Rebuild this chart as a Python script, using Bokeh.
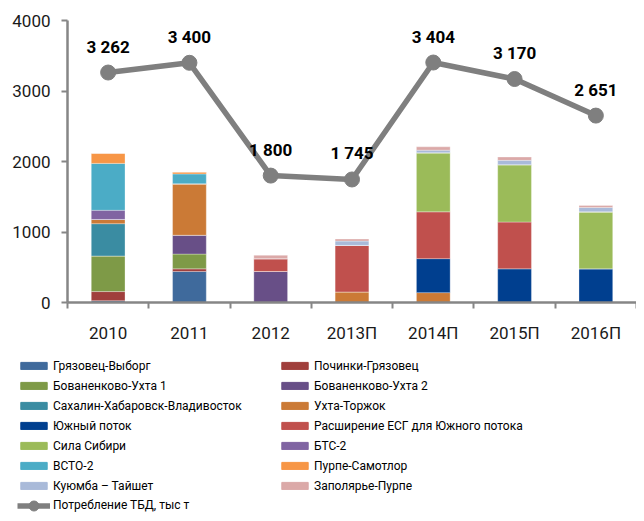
from bokeh.plotting import figure
from bokeh.layouts import column
from bokeh.models import Range1d, FixedTicker, ColumnDataSource, Legend, LegendItem
from bokeh.core.properties import value
from bokeh.embed import file_html
from bokeh.resources import INLINE

categories = ["2010", "2011", "2012", "2013П", "2014П", "2015П", "2016П"]

gryazovets_vyborg = [25, 440, 0, 0, 0, 0, 0]
pochinki_gryazovets = [130, 37, 0, 0, 0, 0, 0]
bovanenkovo_ukhta_1 = [505, 210, 0, 0, 0, 0, 0]
bovanenkovo_ukhta_2 = [0, 267, 440, 0, 0, 0, 0]
sakhalin_khabarovsk_vladivostok = [458, 0, 0, 0, 0, 0, 0]
ukhta_torzhok = [60, 730, 0, 150, 140, 0, 0]
south_stream = [0, 0, 0, 0, 482, 477, 477]
ugss_expansion = [0, 0, 182, 660, 664, 664, 0]
power_of_siberia = [0, 0, 0, 0, 838, 814, 809]
bts_2 = [130, 0, 0, 0, 0, 0, 0]
espo_2 = [665, 140, 0, 0, 0, 0, 0]
purpe_samotlor = [145, 28, 0, 0, 0, 0, 0]
kuyumba_taishet = [0, 0, 0, 61, 37, 61, 61]
zapolyarye_purpe = [0, 0, 47, 28, 47, 47, 28]

consumption = [3262, 3400, 1800, 1745, 3404, 3170, 2651]

series_names = [
    "Грязовец-Выборг", "Починки-Грязовец",
    "Бованенково-Ухта 1", "Бованенково-Ухта 2",
    "Сахалин-Хабаровск-Владивосток", "Ухта-Торжок",
    "Южный поток", "Расширение ЕСГ для Южного потока",
    "Сила Сибири", "БТС-2",
    "ВСТО-2", "Пурпе-Самотлор",
    "Куюмба – Тайшет", "Заполярье-Пурпе",
]
series_values = [
    gryazovets_vyborg, pochinki_gryazovets,
    bovanenkovo_ukhta_1, bovanenkovo_ukhta_2,
    sakhalin_khabarovsk_vladivostok, ukhta_torzhok,
    south_stream, ugss_expansion,
    power_of_siberia, bts_2,
    espo_2, purpe_samotlor,
    kuyumba_taishet, zapolyarye_purpe,
]
colors = [
    "#3F6A9C", "#A03F3C",
    "#7E9A47", "#684F87",
    "#3A8CA2", "#CB7A36",
    "#003F8F", "#C0504D",
    "#9BBB59", "#8064A2",
    "#4BACC6", "#F79646",
    "#A9BAD9", "#DBA9A8",
]
line_name = "Потребление ТБД, тыс т"
line_color = "#7F7F7F"

FONT = "Roboto"
x_pos = list(range(len(categories)))

data = {"x": x_pos, "consumption": consumption,
        "label": [f"{v:,}".replace(",", " ") for v in consumption]}
keys = []
for i, vals in enumerate(series_values):
    k = f"s{i}"
    keys.append(k)
    data[k] = vals
source = ColumnDataSource(data)

# ---------------- main chart ----------------
p = figure(width=636, height=345, output_backend="svg", toolbar_location=None,
           x_range=Range1d(-0.5, len(categories) - 0.5), y_range=Range1d(0, 4000),
           min_border_left=67, min_border_right=0, min_border_top=20,
           min_border_bottom=40)
p.frame_align = False
p.outline_line_color = None
p.xgrid.visible = False
p.ygrid.visible = False

bars = p.vbar_stack(keys, x="x", width=0.415, source=source, color=colors,
                    line_color="white", line_width=0.5, line_alpha=0.6)

p.line("x", "consumption", source=source, line_color=line_color, line_width=5.5)
p.scatter("x", "consumption", source=source, size=15, color=line_color)
p.text("x", "consumption", text="label", source=source, text_align="center",
       text_baseline="middle", y_offset=-26, text_font=value(FONT),
       text_font_size="17px", text_font_style="bold", text_color="black")

ax = p.xaxis[0]
ax.ticker = FixedTicker(ticks=x_pos, minor_ticks=[i - 0.5 for i in range(len(categories) + 1)])
ax.major_label_overrides = {i: c for i, c in enumerate(categories)}
ax.major_tick_line_color = None
ax.major_tick_out = 0
ax.major_tick_in = 0
ax.minor_tick_out = 6
ax.minor_tick_in = 0
ax.minor_tick_line_color = "#868686"
ax.minor_tick_line_width = 2
ax.axis_line_color = "#868686"
ax.axis_line_width = 2.5
ax.major_label_text_font = FONT
ax.major_label_text_font_size = "17px"
ax.major_label_text_color = "#1a1a1a"
ax.major_label_standoff = 14

ay = p.yaxis[0]
ay.ticker = FixedTicker(ticks=[0, 1000, 2000, 3000, 4000], minor_ticks=[])
ay.major_tick_out = 6
ay.major_tick_in = 0
ay.major_tick_line_color = "#868686"
ay.major_tick_line_width = 2
ay.minor_tick_line_color = None
ay.axis_line_color = "#868686"
ay.axis_line_width = 2.5
ay.major_label_text_font = FONT
ay.major_label_text_font_size = "17px"
ay.major_label_text_color = "#1a1a1a"
ay.major_label_standoff = 11

# ---------------- legend panel ----------------
# legend-only renderers: drawn from the same source, kept outside this panel's view
lg = figure(width=636, height=168, output_backend="svg", toolbar_location=None,
            x_range=Range1d(-100, -99), y_range=Range1d(-100, -99),
            x_axis_location=None, y_axis_location=None,
            min_border_left=0, min_border_right=0, min_border_top=0,
            min_border_bottom=0)
lg.frame_align = False
lg.outline_line_color = None
lg.xgrid.visible = False
lg.ygrid.visible = False

swatches = [lg.vbar(x="x", top=k, width=0.415, source=source, color=c)
            for k, c in zip(keys, colors)]
l_line = lg.line("x", "consumption", source=source, line_color=line_color, line_width=5.5)
l_pt = lg.scatter("x", "consumption", source=source, size=15, color=line_color)

left_idx = [0, 2, 4, 6, 8, 10, 12]
right_idx = [1, 3, 5, 7, 9, 11, 13]
left_items = [LegendItem(label=series_names[i], renderers=[swatches[i]]) for i in left_idx]
right_items = [LegendItem(label=series_names[i], renderers=[swatches[i]]) for i in right_idx]
line_items = [LegendItem(label=line_name, renderers=[l_line, l_pt])]


def make_legend(items, loc, glyph_height=9):
    return Legend(items=items, location=loc, orientation="vertical",
                  glyph_width=33, glyph_height=glyph_height, label_standoff=3,
                  label_text_font=FONT, label_text_font_size="12px",
                  label_text_color="black", label_height=15, spacing=5,
                  padding=0, margin=0, border_line_color=None,
                  background_fill_alpha=0)


lg.add_layout(make_legend(left_items, (17, 20)), "center")
lg.add_layout(make_legend(right_items, (278, 20)), "center")
lg.add_layout(make_legend(line_items, (17, -4.5), glyph_height=25), "center")

layout = column(p, lg, spacing=0)
open("out.html", "w").write(file_html(layout, INLINE))
